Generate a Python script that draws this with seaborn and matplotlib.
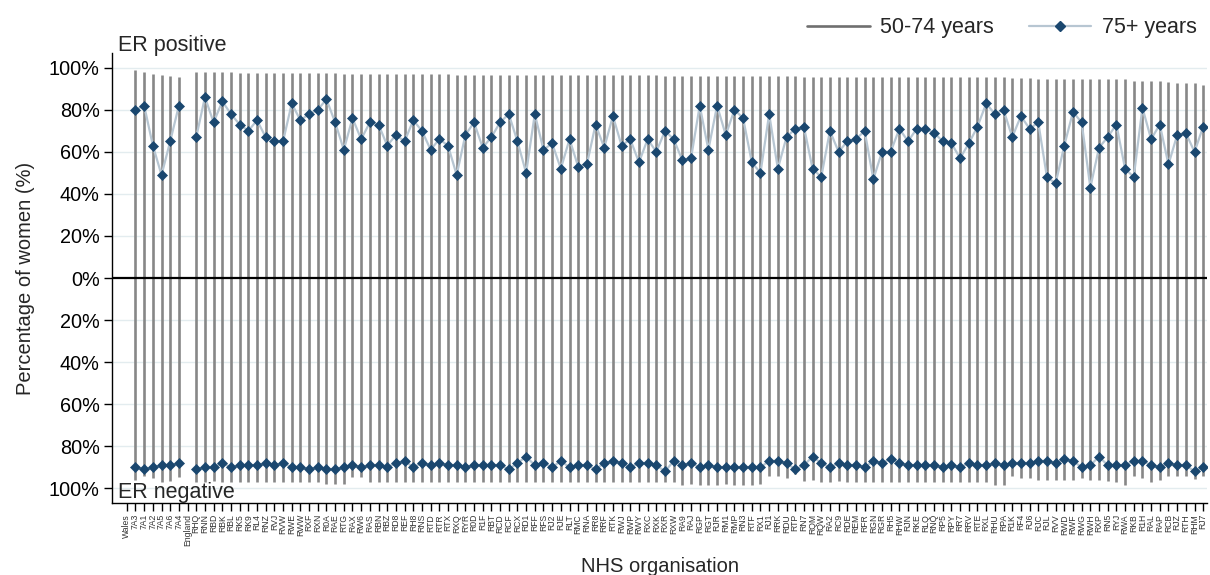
import numpy as np
import pandas as pd
import matplotlib
matplotlib.use("Agg")
import matplotlib.pyplot as plt
from matplotlib.lines import Line2D
import seaborn as sns

# ---------------- data ----------------
orgs = ["Wales", "7A3", "7A1", "7A2", "7A5", "7A6", "7A4", "England",
        "RHQ", "RNN", "RBD", "RBK", "RBL", "RK5", "RK9", "RL4", "RNZ", "RVJ",
        "RVW", "RWE", "RWW", "RXF", "RXN", "R0A", "RAE", "RTG", "RAX", "RW6",
        "RAS", "RBN", "RBZ", "RD8", "REF", "RH8", "RNS", "RTD", "RTR", "RTX",
        "RXQ", "RYR", "R0D", "R1F", "RBT", "RCD", "RCF", "RCX", "RD1", "RFF",
        "RFS", "RJ2", "RJE", "RLT", "RMC", "RNA", "RR8", "RRF", "RTK", "RWJ",
        "RWP", "RWY", "RXC", "RXK", "RXR", "RXW", "RA9", "RAJ", "RGP", "RGT",
        "RJR", "RM1", "RMP", "RN3", "RTF", "RX1", "RJ1", "RRK", "RDU", "RTP",
        "RN7", "RQM", "RQW", "RA2", "RC9", "RDE", "REM", "RFR", "RGN", "RGR",
        "RH5", "RHW", "RJN", "RKE", "RLQ", "RNQ", "RP5", "RPY", "RR7", "RRV",
        "RTE", "RXL", "RHU", "RPA", "R1K", "RF4", "RJ6", "RJC", "RJL", "RVV",
        "RWD", "RWF", "RWG", "RWH", "RXP", "RN5", "RYJ", "RWA", "RKB", "R1H",
        "RAL", "RAP", "RCB", "RJZ", "RTH", "RHM", "RJ7"]

country = ["Wales"] * 7 + ["England"] * 118

nan = np.nan

# 50-74 years, % ER positive (upward spikes)
er_pos_5074 = [nan, 99.0, 97.8, 96.9, 96.7, 95.9, 95.7, nan,
               97.9, 97.9, 97.8, 97.8, 97.8, 97.7, 97.7, 97.7, 97.6, 97.6,
               97.6, 97.5, 97.5, 97.4, 97.4, 97.3, 97.3, 97.2,
               97.0, 97.0, 97.0, 96.9, 96.9, 96.9, 96.9, 96.8, 96.8, 96.8,
               96.8, 96.8, 96.7, 96.7, 96.7, 96.7, 96.7, 96.7, 96.6, 96.6,
               96.6, 96.6, 96.6, 96.6, 96.5, 96.5, 96.5, 96.5, 96.5, 96.5,
               96.4, 96.4, 96.4, 96.4, 96.4, 96.4, 96.3, 96.3, 96.3, 96.3,
               96.3, 96.3, 96.2, 96.2, 96.2, 96.2, 96.2, 96.2,
               95.9, 95.9, 95.9, 95.9, 95.8, 95.8, 95.8, 95.8, 95.8, 95.8,
               95.7, 95.7, 95.7, 95.7, 95.7, 95.7, 95.6, 95.6, 95.6, 95.6,
               95.6, 95.6, 95.5, 95.5, 95.5, 95.5, 95.5, 95.5,
               94.9, 94.9, 94.9, 94.8, 94.8, 94.8, 94.7, 94.7, 94.7, 94.6,
               94.6, 94.6, 94.5, 94.5,
               93.9, 93.8, 93.7, 93.6,
               93.0, 92.9, 92.8, 92.7,
               91.8]

# 50-74 years, % ER negative (downward spikes)
er_neg_5074 = [nan, 96.0, 94.0, 95.0, 97.0, 96.5, 94.5, nan,
               96.8, 97.0, 96.6, 96.8, 97.1, 96.8, 96.9, 97.0, 96.8, 96.9,
               97.1, 96.8, 97.0, 96.9, 97.1,
               97.9, 97.9, 97.9,
               94.6, 94.8,
               96.8, 97.0, 96.9, 97.1, 96.8, 96.9, 97.0, 96.8, 97.1, 96.9,
               97.0, 96.8, 97.1,
               97.1, 97.0, 97.2, 97.1, 97.0, 97.1, 97.2, 97.0, 97.1, 97.1,
               97.2, 97.0, 97.1, 97.1, 97.0, 97.2, 97.1, 97.0, 97.1, 97.2,
               97.1, 97.0, 97.1,
               98.2, 98.1, 98.3, 98.2, 98.2, 98.1, 98.3, 98.2, 98.2, 98.1,
               94.3, 94.3, 95.1, 93.2, 96.3, 96.0, 97.1, 97.1, 96.3, 97.1,
               97.1, 97.0, 97.2, 97.1, 97.0, 97.1, 97.2, 97.0, 97.1, 97.1,
               97.2, 97.0, 97.1, 97.1, 97.0,
               97.1,
               98.2, 98.2,
               94.3, 95.1, 95.1, 96.0, 96.0, 96.0, 96.0, 96.0, 95.1, 96.0,
               96.0, 96.3, 97.1, 98.2, 94.3, 95.1, 97.1, 96.0, 94.0, 94.3,
               94.3, 95.6, 94.3]

# 75+ years, % ER positive
er_pos_75 = [nan, 80, 82, 63, 49, 65, 82, nan,
             67, 86, 74, 84, 78, 73, 70, 75, 67, 65, 65, 83, 75, 78, 80, 85,
             74, 61, 76, 66, 74, 73, 63, 68, 65, 75, 70, 61, 66, 63, 49, 68,
             74, 62,
             67, 74, 78, 65, 50, 78, 61, 64, 52, 66, 53, 54, 73, 62, 77, 63,
             66, 55, 66, 60, 70, 66, 56, 57, 82, 61, 82, 68, 80, 76, 55, 50,
             78, 52, 67, 71, 72, 52, 48, 70, 60, 65,
             66, 70, 47, 60, 60, 71, 65, 71, 71, 69, 65, 64, 57, 64, 72, 83,
             78, 80, 67, 77, 71, 74, 48, 45, 63, 79, 74, 43, 62, 67, 73, 52,
             48, 81, 66, 73, 54, 68, 69, 60, 72]

# 75+ years, % ER negative
er_neg_75 = [nan, 90, 91, 90, 89, 89, 88, nan,
             91, 90, 90, 88, 90, 89, 89, 89, 88, 89, 88, 90, 90, 91, 90, 91,
             91, 90, 89, 90, 89, 89, 90, 88, 87, 90, 88, 89, 88, 89, 89, 90,
             89, 89,
             89, 89, 91, 88, 85, 89, 88, 90, 87, 90, 89, 89, 91, 88, 87, 88,
             90, 88, 88, 89, 92, 87, 89, 88, 90, 89, 90, 90, 90, 90, 90, 90,
             87, 87, 88, 91, 89, 85, 88, 90, 88, 89,
             89, 90, 87, 88, 86, 88, 89, 89, 89, 89, 90, 89, 90, 88, 89, 89,
             88, 89, 88, 88, 88, 87, 87, 88, 86, 87, 90, 89, 85, 89, 89, 89,
             87, 87, 89, 90, 88, 89, 89, 92, 90]

y_ticks = [-100, -80, -60, -40, -20, 0, 20, 40, 60, 80, 100]
y_tick_labels = ["100%", "80%", "60%", "40%", "20%", "0%",
                 "20%", "40%", "60%", "80%", "100%"]

# ---------------- styling ----------------
sns.set_theme(style="white")
plt.rcParams["font.family"] = ["Liberation Sans", "DejaVu Sans"]

GREY = "#878787"
NAVY = "#1a476f"
LINE75 = "#b7c6d2"
GRID = "#e3ecef"

df = pd.DataFrame({
    "org": orgs,
    "x": np.arange(len(orgs)),
    "country": country,
    "pos5074": er_pos_5074,
    "neg5074": er_neg_5074,
    "pos75": er_pos_75,
    "neg75": er_neg_75,
})
df["neg5074_plot"] = -df["neg5074"]
df["neg75_plot"] = -df["neg75"]

fig = plt.figure(figsize=(12.1, 5.75), dpi=100)
ax = fig.add_axes([0.0926, 0.1252, 0.905, 0.7826])

# gridlines
for yv in y_ticks:
    if yv != 0:
        ax.axhline(yv, color=GRID, lw=1.0, zorder=0)

# 50-74 spikes
ax.vlines(df["x"], df["neg5074_plot"], df["pos5074"], color=GREY,
          lw=1.9, zorder=2)

# zero line
ax.axhline(0, color="black", lw=1.6, zorder=3)

# 75+ connected diamonds
for col in ["pos75", "neg75_plot"]:
    sns.lineplot(data=df, x="x", y=col, units="country", estimator=None,
                 sort=False, color=LINE75, lw=1.6, marker="D",
                 markersize=5.0, markerfacecolor=NAVY, markeredgecolor=NAVY,
                 markeredgewidth=0.5, ax=ax, legend=False, zorder=4)

ax.set_xlim(-1.7, 124.45)
ax.set_ylim(-107, 107)
ax.set_yticks(y_ticks)
ax.set_yticklabels(y_tick_labels, fontsize=14.3)
ax.set_xticks(df["x"])
ax.set_xticklabels(orgs, rotation=90, fontsize=6.2, color="#333333")

for side in ["top", "right"]:
    ax.spines[side].set_visible(False)
for side in ["left", "bottom"]:
    ax.spines[side].set_color("black")
    ax.spines[side].set_linewidth(1.0)

ax.tick_params(axis="y", which="both", left=True, length=6, width=1,
               direction="out", pad=3, colors="black")
ax.tick_params(axis="x", which="both", bottom=True, length=6, width=1,
               direction="out", pad=2, colors="black")
for lab in ax.get_xticklabels():
    lab.set_color("#333333")

ax.set_xlabel("NHS organisation", fontsize=14.5, labelpad=8)
ax.set_ylabel("Percentage of women (%)", fontsize=14.5, labelpad=10)

ax.text(0.005, 1.016, "ER positive", transform=ax.transAxes,
        fontsize=15.5, va="center", ha="left", clip_on=False)
ax.text(0.005, 0.024, "ER negative", transform=ax.transAxes,
        fontsize=15.5, va="center", ha="left", clip_on=False, zorder=5)

handles = [
    Line2D([0], [0], color="#6f6f6f", lw=1.9),
    Line2D([0], [0], color=LINE75, lw=1.6, marker="D", markersize=5.0,
           markerfacecolor=NAVY, markeredgecolor=NAVY),
]
fig.legend(handles, ["50-74 years", "75+ years"], loc="upper right",
           bbox_to_anchor=(1.005, 1.004), ncol=2, frameon=False,
           fontsize=15.5, handlelength=2.9, columnspacing=1.6,
           handletextpad=0.5)

fig.savefig("out.png", dpi=100, facecolor="white")
